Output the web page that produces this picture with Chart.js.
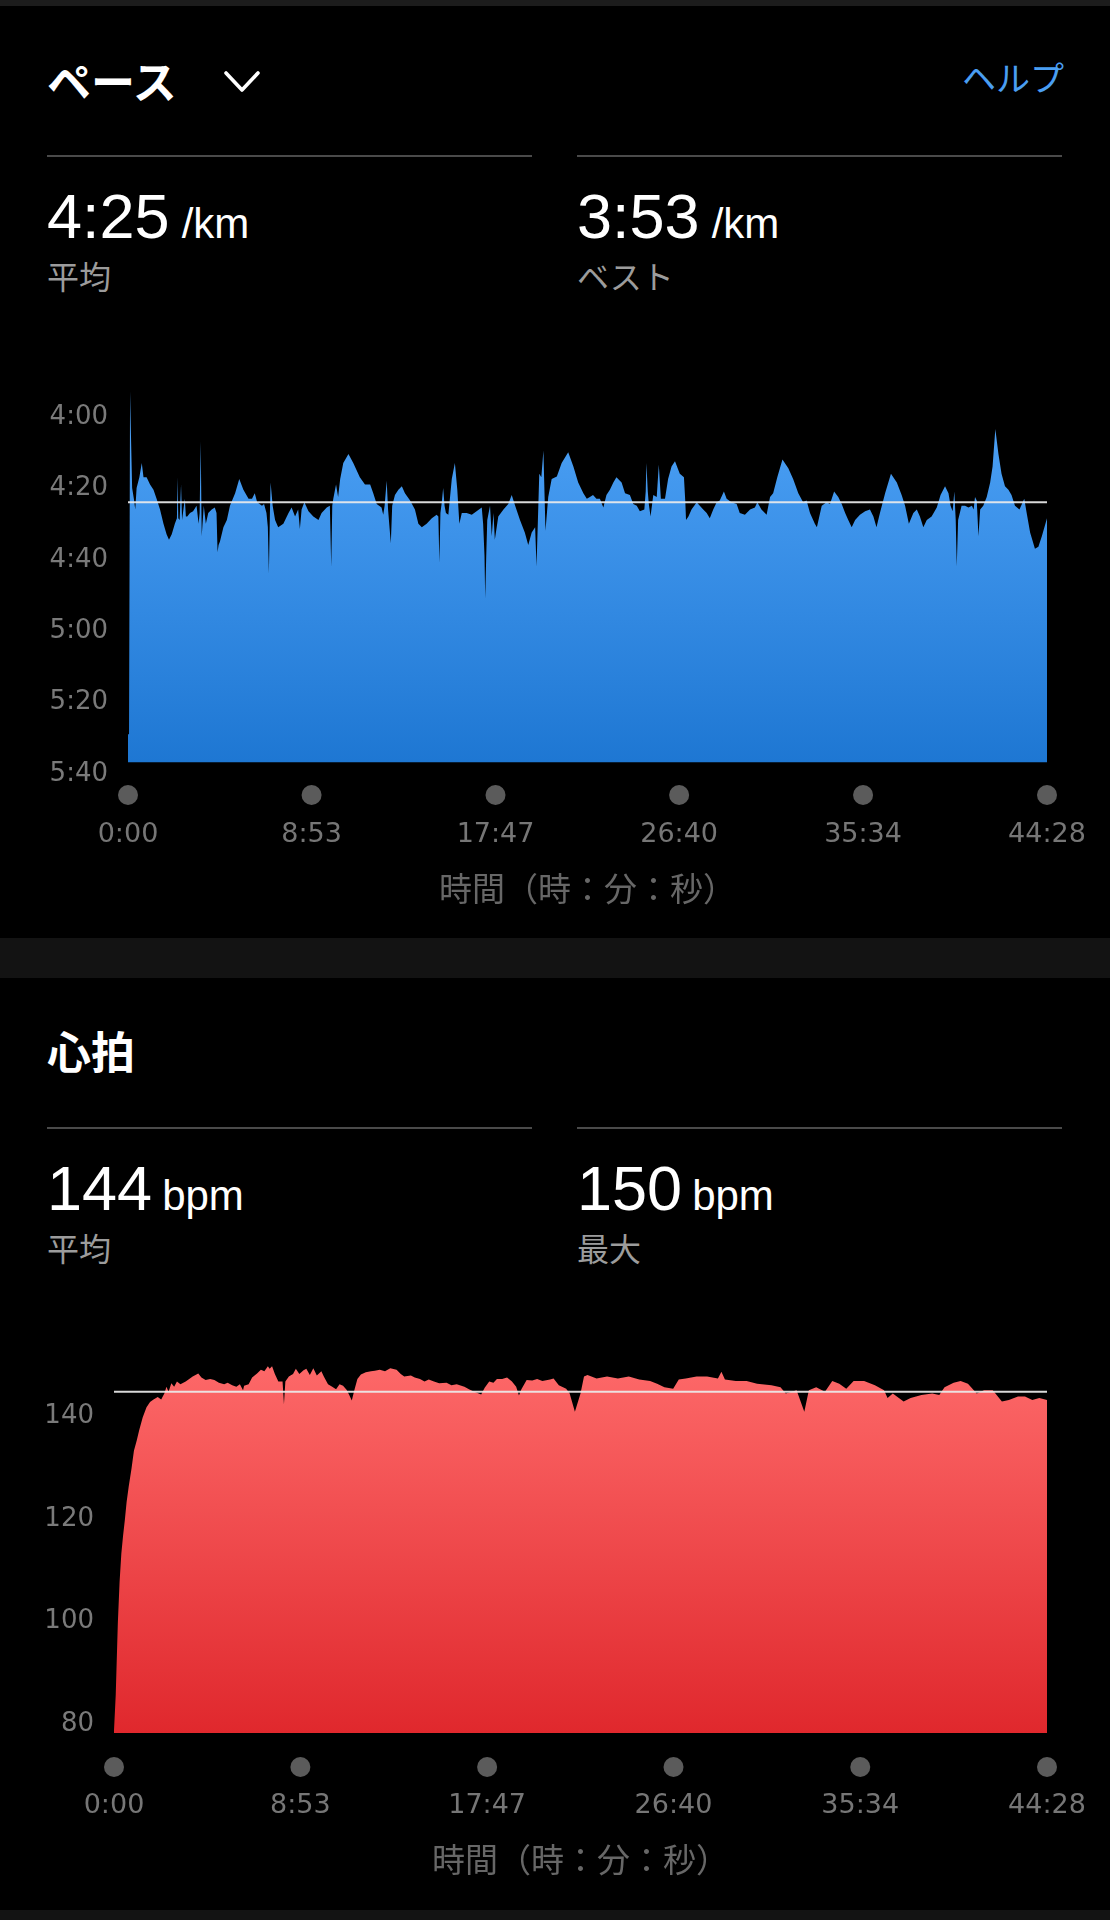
<!DOCTYPE html>
<html lang="ja">
<head>
<meta charset="utf-8">
<script src="https://cdn.jsdelivr.net/npm/chart.js@4.4.1/dist/chart.umd.min.js"></script>
<style>
  html, body { margin: 0; padding: 0; background: #000; }
  body { width: 1110px; height: 1920px; position: relative; overflow: hidden; }
  .abs { position: absolute; white-space: nowrap; }
  .band { position: absolute; left: 0; width: 1110px; background: #131313; }
  .title { font-family: "Noto Sans CJK JP", sans-serif; font-weight: 700; font-size: 44px; line-height: 44px; color: #fff; }
  .help { font-family: "Noto Sans CJK JP", sans-serif; font-size: 34px; line-height: 34px; color: #4a9ef2; }
  .sep { position: absolute; height: 2px; background: #4a4a4a; width: 485px; }
  .big { font-family: "Liberation Sans", Arial, sans-serif; font-size: 63px; line-height: 63px; color: #fff; }
  .big span { font-size: 42px; margin-left: 12px; }
  .sub { font-family: "Noto Sans CJK JP", sans-serif; font-size: 32px; line-height: 32px; color: #9c9c9c; }
  canvas { position: absolute; left: 0; }
</style>
</head>
<body>
<div class="band" style="top:0;height:6px;background:#1c1c1c"></div>

<div class="abs title" style="left:47px;top:58px">ペース</div>
<svg class="abs" style="left:222px;top:66px" width="42" height="30" viewBox="0 0 42 30">
  <polyline points="4,7 20,24 36,7" fill="none" stroke="#fff" stroke-width="3.6" stroke-linecap="round" stroke-linejoin="round"/>
</svg>
<div class="abs help" style="left:962px;top:60px">ヘルプ</div>
<div class="sep" style="left:47px;top:155px"></div>
<div class="sep" style="left:577px;top:155px"></div>
<div class="abs big" style="left:47px;top:185px">4:25<span>/km</span></div>
<div class="abs big" style="left:577px;top:185px">3:53<span>/km</span></div>
<div class="abs sub" style="left:47px;top:259px">平均</div>
<div class="abs sub" style="left:577px;top:259px">ベスト</div>

<canvas id="pace" width="1110" height="576" style="top:354px;width:1110px;height:576px"></canvas>

<div class="band" style="top:938px;height:40px"></div>

<div class="abs title" style="left:47px;top:1028px">心拍</div>
<div class="sep" style="left:47px;top:1127px"></div>
<div class="sep" style="left:577px;top:1127px"></div>
<div class="abs big" style="left:47px;top:1157px">144<span style="margin-left:10px">bpm</span></div>
<div class="abs big" style="left:577px;top:1157px">150<span style="margin-left:10px">bpm</span></div>
<div class="abs sub" style="left:47px;top:1231px">平均</div>
<div class="abs sub" style="left:577px;top:1231px">最大</div>

<canvas id="hr" width="1110" height="580" style="top:1320px;width:1110px;height:580px"></canvas>

<div class="band" style="top:1910px;height:10px"></div>

<script>
// ---- data ----
const timeTickValues = [0, 533, 1067, 1600, 2134, 2668];
const timeTickLabels = ['0:00', '8:53', '17:47', '26:40', '35:34', '44:28'];
const timeAxisTitle = '時間（時：分：秒）';

const paceTickValues = [240, 260, 280, 300, 320, 340];
const paceTickLabels = ['4:00', '4:20', '4:40', '5:00', '5:20', '5:40'];
const paceAverage = 265; // 4:25 /km

// elapsed seconds
const paceTimes = [
  0, 3, 6, 9, 12, 17, 21, 25, 33, 40, 45, 54, 64, 74, 83, 93, 103, 112, 119, 127,
  136, 142, 144, 146, 150, 154, 157, 165, 168, 172, 180, 189, 199, 205, 208, 211, 214, 220, 226, 233,
  243, 252, 257, 260, 263, 267, 277, 287, 296, 311, 323, 335, 350, 360, 368, 375, 382, 389, 395, 402,
  406, 409, 412, 414, 420, 427, 436, 451, 466, 475, 485, 494, 499, 504, 512, 524, 538, 553, 562, 577,
  586, 590, 593, 596, 604, 610, 616, 625, 640, 654, 673, 688, 703, 712, 722, 736, 741, 745, 751, 755,
  763, 767, 775, 785, 795, 804, 819, 833, 843, 853, 867, 882, 896, 901, 904, 907, 911, 915, 919, 923,
  930, 940, 949, 956, 962, 969, 983, 998, 1012, 1027, 1031, 1035, 1037, 1040, 1043, 1051, 1056, 1061, 1065, 1075,
  1090, 1104, 1114, 1124, 1138, 1152, 1162, 1172, 1182, 1186, 1190, 1194, 1200, 1206, 1212, 1220, 1230, 1245, 1259, 1278,
  1293, 1307, 1322, 1332, 1341, 1350, 1360, 1370, 1380, 1389, 1399, 1409, 1418, 1433, 1443, 1457, 1467, 1477, 1486, 1499,
  1503, 1505, 1509, 1512, 1517, 1525, 1535, 1541, 1547, 1559, 1568, 1578, 1588, 1602, 1614, 1618, 1620, 1627, 1636, 1651,
  1660, 1670, 1680, 1689, 1699, 1709, 1718, 1730, 1738, 1752, 1767, 1776, 1791, 1806, 1820, 1827, 1839, 1854, 1864, 1873,
  1885, 1900, 1917, 1931, 1946, 1960, 1970, 1980, 1994, 2000, 2014, 2028, 2038, 2050, 2062, 2072, 2082, 2091, 2101, 2111,
  2125, 2140, 2154, 2164, 2173, 2183, 2198, 2215, 2232, 2246, 2256, 2267, 2280, 2290, 2299, 2309, 2319, 2333, 2348, 2359,
  2372, 2382, 2388, 2394, 2399, 2403, 2406, 2410, 2420, 2430, 2440, 2450, 2455, 2459, 2464, 2469, 2474, 2483, 2493, 2503,
  2510, 2518, 2527, 2536, 2546, 2556, 2565, 2575, 2588, 2602, 2609, 2619, 2633, 2643, 2653, 2668
];
// pace in seconds per km
const paceValues = [
  330, 330, 234, 248, 261, 264, 267, 261, 258, 254, 258, 258, 260, 261.5, 264, 267, 271, 274, 275.5, 274,
  271, 269.5, 258, 269.5, 270, 260, 270, 264, 269, 269, 268, 267.5, 266, 271, 268, 248, 274.5, 266, 271, 268,
  267, 266.5, 268, 279, 277, 276, 272, 270, 266, 262.5, 258.5, 261.5, 264, 264, 262.5, 265, 265.5, 266, 265.5, 268,
  272, 285, 268, 259.5, 266, 270, 272, 271, 268, 266.5, 269, 267, 272.5, 267, 265, 267.5, 269, 270, 268, 266.5,
  266, 283, 266, 264, 260, 263.5, 258.5, 254, 251.5, 254, 258, 260, 260, 262.5, 265.5, 266.5, 268.5, 266, 259, 267,
  276.5, 266, 263, 261.5, 260.5, 262.5, 264.5, 267, 271, 272, 271, 269.5, 268.5, 269, 282, 268, 265, 261, 266, 268,
  268.5, 258.5, 254, 261.5, 271, 268, 268, 268.5, 267.5, 266.5, 271, 280, 292, 280, 270, 266, 274.5, 268, 275.5, 269,
  267, 265.5, 263, 266, 270, 273.5, 277, 273.5, 272, 283, 270, 257, 258, 250.5, 273, 263.5, 258.5, 257.8, 254, 251,
  255, 259.5, 262.5, 264, 263.5, 263, 264, 264, 266.5, 263, 261.5, 259.5, 258, 259.5, 262.5, 263, 265.5, 266, 267.5, 267,
  262, 254, 262, 265.5, 269, 263, 263.5, 254.5, 264, 264, 258.5, 255, 253.5, 257, 258, 265, 270, 269, 267, 265,
  266, 267, 268, 269.5, 267, 265, 264.5, 262, 264, 265, 265.5, 268, 268.5, 267, 266.5, 265, 267, 268.5, 263.5, 262.5,
  258, 253, 255.5, 258.5, 262.5, 265, 264.5, 268, 271, 272, 266, 265, 265.5, 262, 263.5, 265.5, 268, 270, 272, 270,
  268.5, 267.5, 267, 269, 272, 268, 262.5, 257, 259.5, 263, 266, 271, 268, 267, 269, 272, 270, 269, 266.5, 263,
  260.5, 262.5, 266, 267.5, 262, 270, 283, 270, 266, 266, 266.5, 266, 267, 263.5, 264.5, 274.5, 267, 266, 263.5, 259.5,
  255, 244.5, 251.5, 257, 260.5, 261.5, 263, 266, 267, 264, 268, 273.5, 278, 277.5, 274.5, 269.5
];

const hrTickValues = [80, 100, 120, 140];
const hrTickLabels = ['80', '100', '120', '140'];
const hrAverage = 144;

const hrTimes = [
  0, 5, 11, 16, 21, 26, 31, 36, 42, 50, 57, 65, 72, 82, 93, 103, 113, 125, 135, 144,
  150, 156, 164, 172, 180, 190, 205, 215, 225, 241, 250, 262, 275, 287, 300, 315, 325, 338, 350, 360,
  369, 372, 385, 395, 409, 420, 430, 440, 445, 452, 460, 470, 482, 486, 490, 500, 512, 520, 530, 542,
  550, 560, 570, 580, 593, 600, 612, 624, 635, 645, 655, 665, 672, 680, 688, 696, 706, 720, 735, 746,
  760, 775, 790, 808, 820, 830, 849, 860, 875, 888, 900, 915, 930, 951, 965, 980, 1002, 1015, 1030, 1043,
  1050, 1060, 1073, 1085, 1095, 1110, 1124, 1138, 1150, 1158, 1165, 1180, 1196, 1210, 1225, 1247, 1257, 1272, 1293, 1303,
  1318, 1334, 1344, 1354, 1380, 1410, 1441, 1472, 1502, 1533, 1553, 1574, 1599, 1615, 1635, 1666, 1696, 1727, 1737, 1747,
  1778, 1809, 1839, 1880, 1906, 1921, 1952, 1974, 1987, 2008, 2033, 2054, 2074, 2094, 2115, 2145, 2176, 2202, 2212, 2227,
  2258, 2278, 2309, 2340, 2360, 2375, 2401, 2421, 2442, 2467, 2488, 2513, 2539, 2559, 2585, 2605, 2626, 2646, 2668
];
const hrValues = [
  78, 85, 99, 107, 112.5, 116, 119, 122.5, 125.5, 129, 132.5, 134.5, 136.5, 139, 141, 142, 142.5, 143, 142.5, 143.7,
  145, 144, 145.7, 145, 146, 145.5, 146, 146.5, 147, 147.6, 146.8, 146.3, 146.5, 146.3, 145.8, 145.5, 145.8, 145.3, 145, 145.5,
  144.3, 145.2, 145.5, 146.8, 147.6, 148.3, 148, 149, 148.5, 149, 147.5, 146, 146, 141.6, 146, 147, 147.5, 148.5, 147.5, 148.2,
  148.5, 147.3, 148.6, 147.2, 148, 147, 145.5, 145, 144.5, 145.5, 145.2, 144.4, 143.5, 142.3, 144.5, 146.5, 147.4, 147.8, 148, 148.1,
  148.3, 148, 148.6, 148.3, 147.5, 147, 147.2, 146.8, 146.5, 146, 146.4, 146, 145.7, 145.8, 145.3, 145.5, 145, 144.5, 144, 143.7,
  143.5, 144.8, 146, 145.8, 146.5, 146.5, 146.8, 146, 145, 143.3, 144.5, 146.3, 146.2, 146.5, 146.1, 146.4, 146.6, 145.3, 144.6, 143.7,
  140.1, 143.7, 147, 147.3, 146.6, 147, 146.6, 147, 146.4, 146.1, 145.6, 144.9, 144.6, 146.4, 146.6, 147, 147, 146.6, 147.9, 146.4,
  146.1, 146.1, 145.6, 145.3, 144.9, 143.7, 144.3, 140.1, 144.3, 144.9, 144, 146.1, 145.6, 144.6, 146.1, 146.1, 145.3, 144.3, 142.8, 143.7,
  142.1, 142.8, 143.4, 143.7, 143.4, 144.9, 145.8, 146.1, 145.6, 143.7, 144.3, 144.3, 142.1, 142.4, 143.1, 143.1, 142.4, 142.8, 142.4
];

// ---- helpers ----
const toPoints = (xs, ys) => xs.map((x, i) => ({ x: x, y: ys[i] }));

const tickDots = {
  id: 'tickDots',
  afterDraw(chart, args, opts) {
    const xs = chart.scales.x;
    const ctx = chart.ctx;
    const y = chart.chartArea.bottom + opts.offset;
    ctx.save();
    ctx.fillStyle = '#5b5b5b';
    timeTickValues.forEach(v => {
      ctx.beginPath();
      ctx.arc(xs.getPixelForValue(v), y, 10, 0, Math.PI * 2);
      ctx.fill();
    });
    ctx.restore();
  }
};

function gradientFill(top, bottom) {
  return function (context) {
    const chart = context.chart;
    const area = chart.chartArea;
    if (!area) return top;
    const g = chart.ctx.createLinearGradient(0, area.top, 0, area.bottom);
    g.addColorStop(0, top);
    g.addColorStop(1, bottom);
    return g;
  };
}

function makeChart(id, cfg) {
  return new Chart(document.getElementById(id), {
    type: 'line',
    data: {
      datasets: [
        {
          data: [{ x: 0, y: cfg.avg }, { x: 2668, y: cfg.avg }],
          borderColor: 'rgba(235,235,235,0.92)',
          borderWidth: 2,
          pointRadius: 0,
          fill: false,
          order: 0
        },
        {
          data: toPoints(cfg.times, cfg.values),
          borderColor: 'rgba(0,0,0,0)',
          borderWidth: 0,
          pointRadius: 0,
          tension: 0,
          fill: cfg.fill,
          backgroundColor: gradientFill(cfg.colTop, cfg.colBottom),
          order: 1
        }
      ]
    },
    options: {
      responsive: false,
      animation: false,
      devicePixelRatio: 1,
      events: [],
      layout: { padding: { top: 30, right: 63, bottom: 0, left: 0 } },
      plugins: {
        legend: { display: false },
        tooltip: { enabled: false },
        tickDots: { offset: cfg.dotOffset }
      },
      scales: {
        x: {
          type: 'linear',
          min: 0,
          max: 2668,
          grid: { display: false, drawTicks: true, tickLength: cfg.xTickPad },
          border: { display: false },
          afterBuildTicks: s => { s.ticks = timeTickValues.map(v => ({ value: v })); },
          afterFit: s => { s.height = cfg.xHeight; },
          ticks: {
            autoSkip: false,
            maxRotation: 0,
            padding: 0,
            color: '#767676',
            font: { family: '"DejaVu Sans"', size: 27 },
            callback: (v, i) => timeTickLabels[i]
          },
          title: {
            display: true,
            text: timeAxisTitle,
            color: '#676767',
            font: { family: '"Noto Sans CJK JP"', size: 33 },
            padding: { top: 0, bottom: cfg.titlePad }
          }
        },
        y: {
          type: 'linear',
          reverse: cfg.reverse,
          min: cfg.yMin,
          max: cfg.yMax,
          grid: { display: false, drawTicks: true, tickLength: 20 },
          border: { display: false },
          afterBuildTicks: s => { s.ticks = cfg.tickValues.map(v => ({ value: v })); },
          afterFit: s => { s.width = cfg.yWidth; },
          ticks: {
            autoSkip: false,
            padding: 0,
            labelOffset: 4,
            color: '#7a7a7a',
            font: { family: '"DejaVu Sans"', size: 26 },
            callback: (v, i) => cfg.tickLabels[i]
          }
        }
      }
    },
    plugins: [tickDots]
  });
}

makeChart('pace', {
  avg: paceAverage,
  times: paceTimes,
  values: paceValues,
  fill: { value: 337.8 },
  colTop: '#50a4f8',
  colBottom: '#1d76d2',
  reverse: true,
  yMin: 231.88,
  yMax: 340,
  tickValues: paceTickValues,
  tickLabels: paceTickLabels,
  yWidth: 128,
  xHeight: 160,
  xTickPad: 49,
  titlePad: 22,
  dotOffset: 25
});

makeChart('hr', {
  avg: hrAverage,
  times: hrTimes,
  values: hrValues,
  fill: 'start',
  colTop: '#fe6b6b',
  colBottom: '#e0282d',
  reverse: false,
  yMin: 77.5,
  yMax: 152.16,
  tickValues: hrTickValues,
  tickLabels: hrTickLabels,
  yWidth: 114,
  xHeight: 167,
  xTickPad: 57,
  titlePad: 21,
  dotOffset: 34
});
</script>
</body>
</html>
